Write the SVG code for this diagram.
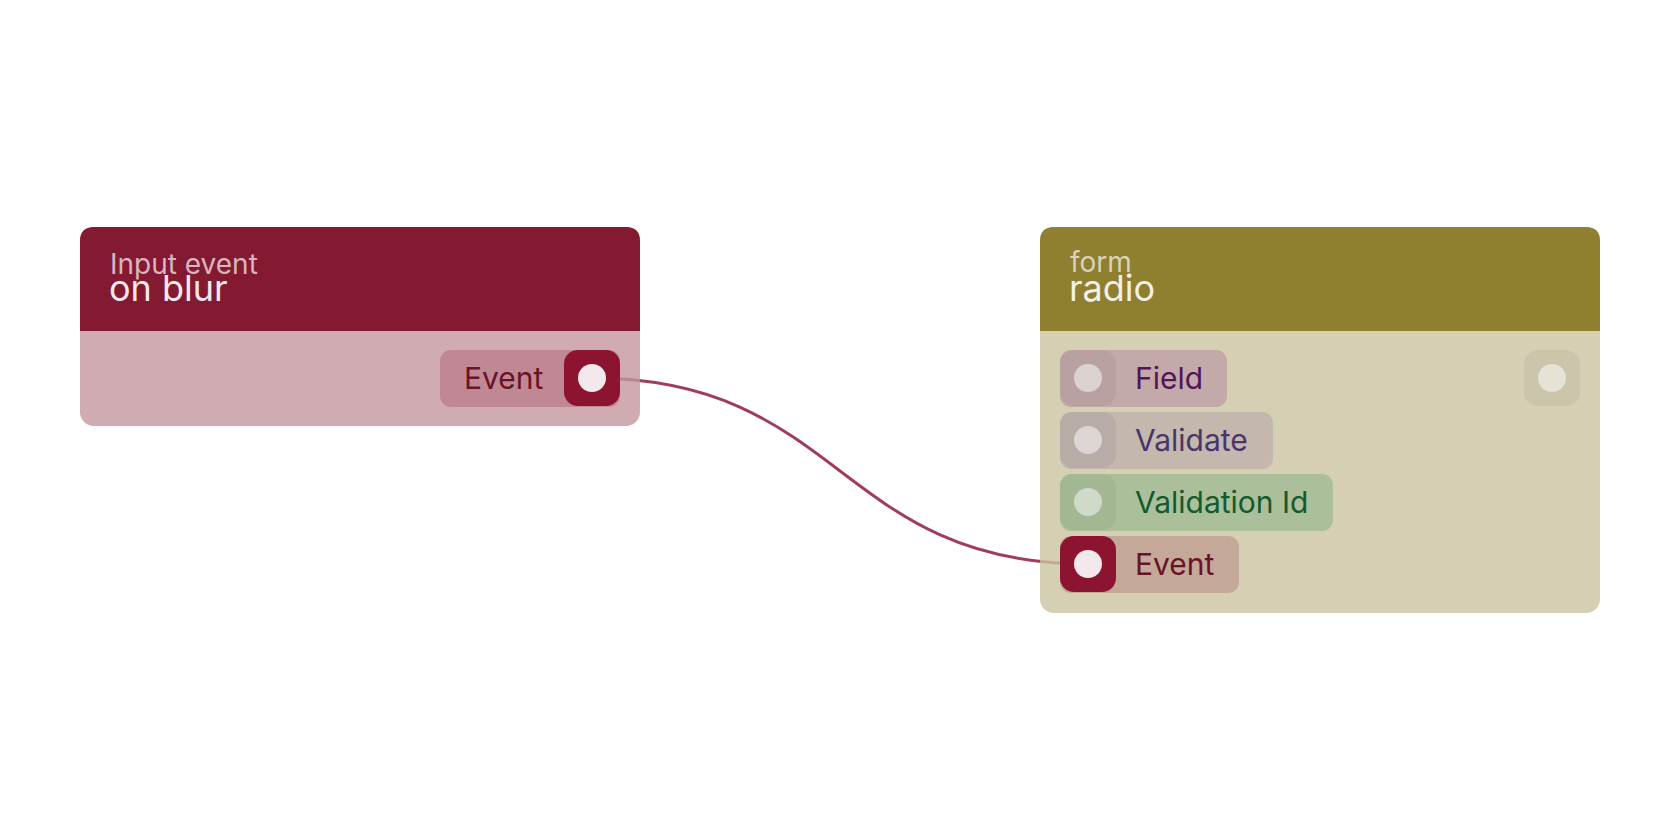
<svg xmlns="http://www.w3.org/2000/svg" width="1680" height="840" viewBox="0 0 1680 840">
  <style>
    text { font-family: Inter, "Noto Sans", "Liberation Sans", sans-serif; }
    .sub { font-size: 28px; }
    .title { font-size: 36px; }
    .lbl { font-size: 30px; }
    .wire { fill: none; stroke: #a03d59; stroke-width: 3; }
    .dot { fill: #f3e8eb; }
    .hot { fill: #8c1431; }
  </style>
  <rect width="1680" height="840" fill="#ffffff"/>
  <g id="connectors">
    <path class="wire" d="M592,378 C842,378 838,564 1088,564"/>
  </g>
  <g id="node-input-event">
    <rect x="80" y="227" width="560" height="199" rx="14" fill="#c4969f" fill-opacity="0.8"/>
    <path d="M80,331 V241 Q80,227 94,227 H626 Q640,227 640,241 V331 Z" fill="#831a32"/>
    <text class="sub" x="110" y="274" fill="#d9b4be">Input event</text>
    <text class="title" x="109" y="301" fill="#f3e9ec">on blur</text>
    <g id="port-out-event">
      <rect x="440" y="350" width="180" height="57" rx="11" fill="#c08894"/>
      <text class="lbl" x="464" y="389" fill="#6a1228">Event</text>
      <rect class="hot" x="564" y="350" width="56" height="56" rx="14"/>
      <circle class="dot" cx="592" cy="378" r="14"/>
    </g>
  </g>
  <g id="node-form-radio">
    <rect x="1040" y="227" width="560" height="386" rx="14" fill="#cac3a0" fill-opacity="0.8"/>
    <path d="M1040,331 V241 Q1040,227 1054,227 H1586 Q1600,227 1600,241 V331 Z" fill="#8e7f31"/>
    <text class="sub" x="1070" y="272" fill="#d9d3b9">form</text>
    <text class="title" x="1069" y="301" fill="#f3f0e4">radio</text>
    <g id="port-field">
      <rect x="1060" y="350" width="167" height="57" rx="11" fill="#c4a9aa"/>
      <rect x="1060" y="350" width="56" height="56" rx="14" fill="#b9a1a2"/>
      <circle cx="1088" cy="378" r="14" fill="#dcd2d2"/>
      <text class="lbl" x="1135" y="389" fill="#52155a">Field</text>
    </g>
    <g id="port-validate">
      <rect x="1060" y="412" width="213" height="57" rx="11" fill="#c3b7ae"/>
      <rect x="1060" y="412" width="56" height="56" rx="14" fill="#b7aca6"/>
      <circle cx="1088" cy="440" r="14" fill="#dcd5d3"/>
      <text class="lbl" x="1135" y="451" fill="#4a3568">Validate</text>
    </g>
    <g id="port-validation-id">
      <rect x="1060" y="474" width="273" height="57" rx="11" fill="#abbf9b"/>
      <rect x="1060" y="474" width="56" height="56" rx="14" fill="#a4b793"/>
      <circle cx="1088" cy="502" r="14" fill="#d0dac8"/>
      <text class="lbl" x="1135" y="513" fill="#135a2e">Validation Id</text>
    </g>
    <g id="port-event">
      <rect x="1060" y="536" width="179" height="57" rx="11" fill="#c4a898"/>
      <rect class="hot" x="1060" y="536" width="56" height="56" rx="14"/>
      <circle class="dot" cx="1088" cy="564" r="14"/>
      <text class="lbl" x="1135" y="575" fill="#6a1228">Event</text>
    </g>
    <g id="port-out">
      <rect x="1524" y="350" width="56" height="56" rx="14" fill="#cbc5ac"/>
      <circle cx="1552" cy="378" r="14" fill="#e6e3d6"/>
    </g>
  </g>
</svg>
